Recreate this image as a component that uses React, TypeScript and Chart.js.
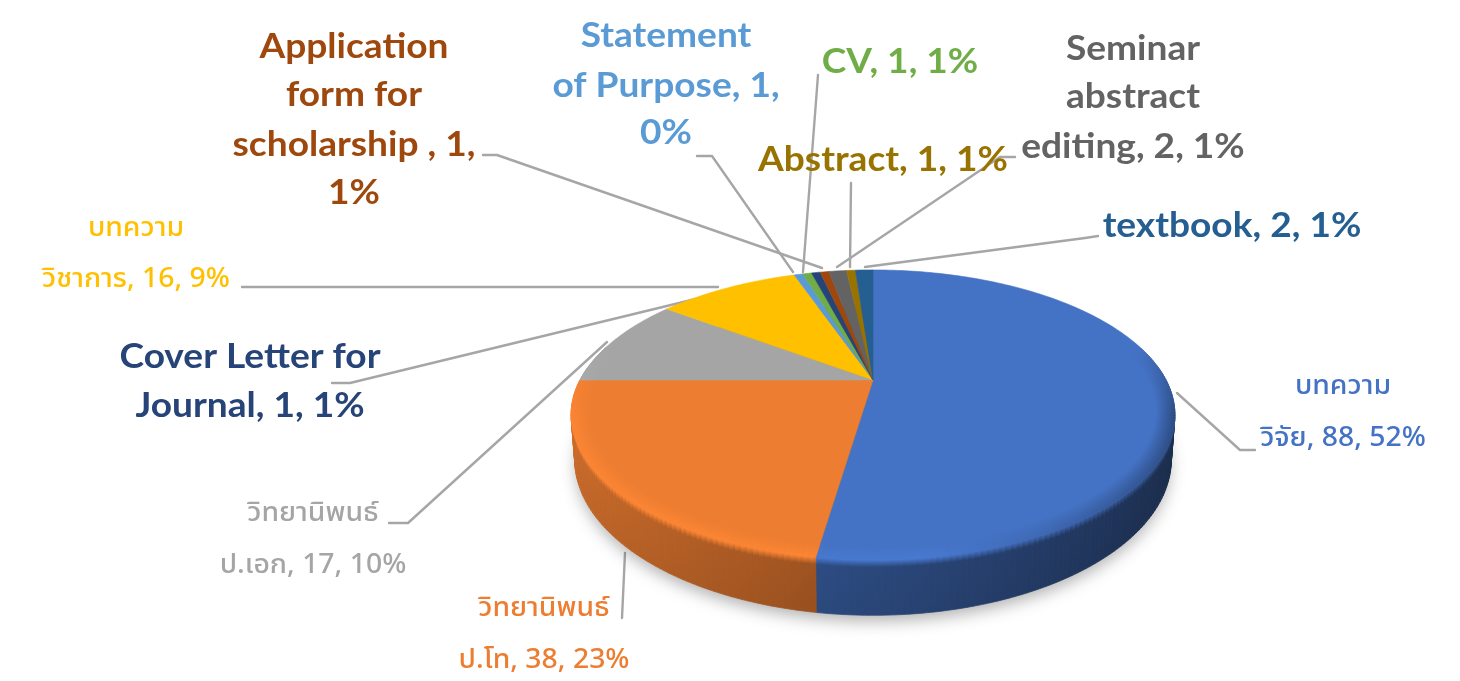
import React, { useEffect, useRef } from "react";
import { Chart, registerables } from "chart.js";

Chart.register(...registerables);

const categories = [
  "บทความวิจัย", "วิทยานิพนธ์ ป.โท", "วิทยานิพนธ์ ป.เอก", "บทความวิชาการ", "Statement of Purpose", "CV",
  "Cover Letter for Journal", "Application form for scholarship", "Seminar abstract editing", "Abstract", "textbook",
];
const values = [88, 38, 17, 16, 1, 1, 1, 1, 2, 1, 2];
const colors = ["#4472c4", "#ed7d31", "#a5a5a5", "#ffc000", "#5b9bd5", "#70ad47", "#264478", "#9e480e", "#636363", "#997300", "#255e91"];

const labelLines = [
  ["บทความ", "วิจัย, 88, 52%"],
  ["วิทยานิพนธ์", "ป.โท, 38, 23%"],
  ["วิทยานิพนธ์", "ป.เอก, 17, 10%"],
  ["บทความ", "วิชาการ, 16, 9%"],
  ["Statement", "of Purpose, 1,", "0%"],
  ["CV, 1, 1%"],
  ["Cover Letter for", "Journal, 1, 1%"],
  ["Application", "form for", "scholarship , 1,", "1%"],
  ["Seminar", "abstract", "editing, 2, 1%"],
  ["Abstract, 1, 1%"],
  ["textbook, 2, 1%"],
];

// layout only: label centre x, line centre ys
const labelX = [1343, 544, 313, 136, 666, 900, 250, 354, 1133, 883, 1232];
const labelY = [[389, 441], [611, 663], [516, 568], [231, 282], [36, 86, 133], [62], [357, 406], [47, 95, 145, 193], [49, 97, 147], [160], [226]];
const leaders = [
  [[1177, 393], [1240, 450], [1255, 450]],
  [[625, 553], [622, 618]],
  [[607, 342], [408, 523], [389, 523]],
  [[242, 287], [718, 287]],
  [[697, 156], [712, 156], [793, 272]],
  [[818, 75], [803, 272]],
  [[332, 383], [350, 383], [712, 295]],
  [[483, 155], [497, 155], [822, 268]],
  [[1015, 157], [1000, 157], [837, 267]],
  [[851, 183], [850, 267]],
  [[1098, 236], [1085, 238], [865, 267]],
];

const CX = 873, CY = 380, RX = 293, RY = 136.6, K = 0.241, DEPTH = 42;
const THAI = '"Noto Sans Thai","Noto Sans Thai UI","DejaVu Sans","Liberation Sans",sans-serif';
const LATIN = 'Lato,"Open Sans",sans-serif';

const pt = (a: number, r = 1, d = 0) => {
  const u = r * Math.cos(a), v = r * Math.sin(a), w = 1 / (1 - K * v);
  return [CX + RX * u * w * (1 - (d / DEPTH) * 0.012), CY + RY * v * w + d * w];
};
const rgb = (h: string) => [1, 3, 5].map((i) => parseInt(h.slice(i, i + 2), 16));
const shade = (h: string, f: number) => {
  const c = rgb(h).map((x) => Math.max(0, Math.min(255, Math.round(x * f))));
  return `rgb(${c[0]},${c[1]},${c[2]})`;
};

const pie3d = {
  id: "pie3d",
  beforeDatasetsDraw(chart: any) {
    const ctx: CanvasRenderingContext2D = chart.ctx;
    const arcs = chart.getDatasetMeta(0).data;
    const cols: string[] = chart.data.datasets[0].backgroundColor;
    const STEP = Math.PI / 180;

    ctx.save();
    ctx.lineCap = "round";
    ctx.lineJoin = "round";
    ctx.strokeStyle = "#a6a6a6";
    ctx.lineWidth = 2.4;
    leaders.forEach((l) => {
      ctx.beginPath();
      l.forEach((p, i) => (i ? ctx.lineTo(p[0], p[1]) : ctx.moveTo(p[0], p[1])));
      ctx.stroke();
    });
    ctx.restore();

    // soft shadow
    ctx.save();
    ctx.shadowColor = "rgba(60,60,60,0.4)";
    ctx.shadowBlur = 16;
    ctx.shadowOffsetY = 7;
    ctx.fillStyle = "#555";
    ctx.beginPath();
    for (let a = 0; a < Math.PI * 2; a += STEP) {
      const p = pt(a, 0.995, DEPTH);
      a ? ctx.lineTo(p[0], p[1]) : ctx.moveTo(p[0], p[1]);
    }
    ctx.closePath();
    ctx.fill();
    ctx.restore();

    const each = (arc: any, fn: (a0: number, a1: number) => void) => {
      const n = Math.max(1, Math.ceil((arc.endAngle - arc.startAngle) / STEP));
      const da = (arc.endAngle - arc.startAngle) / n;
      for (let i = 0; i < n; i++) fn(arc.startAngle + i * da, arc.startAngle + (i + 1) * da);
    };
    const quad = (p: number[][], style: any) => {
      ctx.fillStyle = style;
      ctx.strokeStyle = style;
      ctx.lineWidth = 0.7;
      ctx.beginPath();
      p.forEach((q, i) => (i ? ctx.lineTo(q[0], q[1]) : ctx.moveTo(q[0], q[1])));
      ctx.closePath();
      ctx.fill();
      ctx.stroke();
    };
    const sideF = (u: number) => 0.63 - 0.25 * u;
    const rimF = (u: number) => (u < 0.15 ? 1.06 : 1.06 - (u - 0.15) * 0.5);
    const rimAt = (m: number) => {
      const fade = Math.max(0, Math.min(1, (Math.sin(m) + 0.25) / 0.5));
      return 1 + (rimF(Math.cos(m)) - 1) * fade;
    };

    // side walls
    arcs.forEach((arc: any, i: number) => {
      each(arc, (a0, a1) => {
        const m = (a0 + a1) / 2;
        if (Math.sin(m) < -0.1) return;
        const u = Math.cos(m);
        const t0 = pt(a0), t1 = pt(a1), b0 = pt(a0, 1, DEPTH), b1 = pt(a1, 1, DEPTH);
        const mt = pt(m), mb = pt(m, 1, DEPTH);
        const g = ctx.createLinearGradient(mt[0], mt[1], mb[0], mb[1]);
        g.addColorStop(0, shade(cols[i], rimAt(m)));
        g.addColorStop(0.13, shade(cols[i], sideF(u)));
        g.addColorStop(1, shade(cols[i], sideF(u) * 0.96));
        quad([t0, t1, b1, b0], g);
      });
    });

    // top faces
    arcs.forEach((arc: any, i: number) => {
      ctx.fillStyle = cols[i];
      ctx.strokeStyle = cols[i];
      ctx.lineWidth = 0.6;
      ctx.beginPath();
      ctx.moveTo(CX, CY);
      each(arc, (a0, a1) => {
        const p = pt(a0);
        ctx.lineTo(p[0], p[1]);
        const q = pt(a1);
        ctx.lineTo(q[0], q[1]);
      });
      ctx.closePath();
      ctx.fill();
      ctx.stroke();
    });

    // bevel
    arcs.forEach((arc: any, i: number) => {
      each(arc, (a0, a1) => {
        const m = (a0 + a1) / 2;
        if (Math.sin(m) < -0.25) return;
        const inner = 0.94;
        const i0 = pt(a0, inner), i1 = pt(a1, inner), o0 = pt(a0), o1 = pt(a1);
        const mi = pt(m, inner), mo = pt(m);
        const g = ctx.createLinearGradient(mi[0], mi[1], mo[0], mo[1]);
        g.addColorStop(0, cols[i]);
        g.addColorStop(1, shade(cols[i], rimAt(m)));
        quad([i0, i1, o1, o0], g);
      });
    });

    // labels
    ctx.save();
    ctx.textAlign = "center";
    ctx.textBaseline = "middle";
    labelLines.forEach((lines, i) => {
      const thai = i < 4;
      ctx.font = thai ? `500 27px ${THAI}` : `700 35px ${LATIN}`;
      ctx.fillStyle = cols[i];
      lines.forEach((s, j) => {
        ctx.save();
        ctx.translate(labelX[i], labelY[i][j]);
        ctx.scale(thai ? 1.05 : 1.06, 1);
        ctx.fillText(s, 0, 0);
        ctx.restore();
      });
    });
    ctx.restore();
    return false;
  },
};

export default function App() {
  const ref = useRef<HTMLCanvasElement>(null);
  useEffect(() => {
    const chart = new Chart(ref.current as HTMLCanvasElement, {
      type: "pie",
      data: { labels: categories, datasets: [{ data: values, backgroundColor: colors, borderWidth: 0 }] },
      options: {
        animation: false,
        responsive: false,
        plugins: { legend: { display: false }, tooltip: { enabled: false } },
      },
      plugins: [pie3d],
    } as any);
    return () => chart.destroy();
  }, []);
  return (
    <canvas
      ref={ref}
      width={1460}
      height={681}
      style={{ position: "absolute", left: 0, top: 0, display: "block", background: "#fff", filter: "blur(0.7px)" }}
    />
  );
}
